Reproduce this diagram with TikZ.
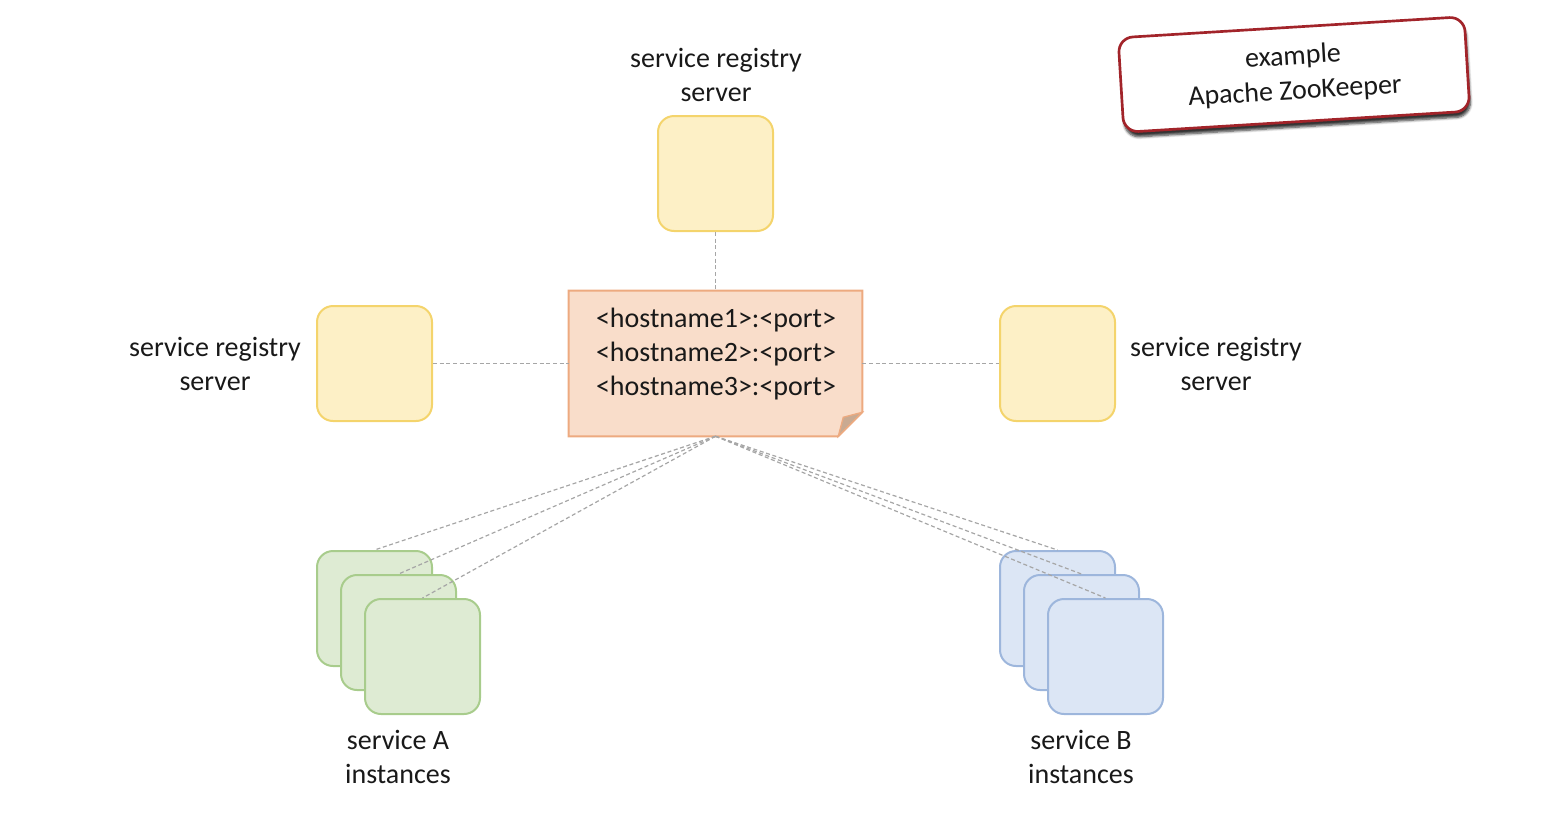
\documentclass[tikz,border=0pt]{standalone}
\usepackage{fontspec}
\setmainfont{Carlito}
\usepackage{xcolor}
\usepackage{tikz}
\usetikzlibrary{calc}
\usetikzlibrary{shadows.blur}

\definecolor{srvfill}{HTML}{FDF0C6}
\definecolor{srvline}{HTML}{F4D46C}
\definecolor{afill}{HTML}{DEEBD3}
\definecolor{aline}{HTML}{A8CC8C}
\definecolor{bfill}{HTML}{DCE6F5}
\definecolor{bline}{HTML}{9DB6DC}
\definecolor{notefill}{HTML}{F9DDCA}
\definecolor{noteline}{HTML}{EDAA80}
\definecolor{foldfill}{HTML}{C9AA92}
\definecolor{exline}{HTML}{A2242A}
\definecolor{linkgray}{HTML}{A6A6A6}

\begin{document}
\begin{tikzpicture}[x=0.75pt,y=0.75pt,yscale=-1,xscale=1,
  every node/.style={font=\fontsize{21}{25.5}\selectfont,text=black!90},
  server/.style={draw=srvline,fill=srvfill,line width=1.5pt,rounded corners=12pt,minimum size=86.25pt,inner sep=0pt},
  instA/.style={server,draw=aline,fill=afill},
  instB/.style={server,draw=bline,fill=bfill},
  link/.style={draw=linkgray,line width=0.9pt,dash pattern=on 3pt off 2pt},
  exbox/.style={draw=exline,fill=white,line width=2pt,rounded corners=11pt,minimum width=260pt,minimum height=71pt,align=center,
    font=\fontsize{21}{26}\selectfont,
    blur shadow={shadow xshift=1pt,shadow yshift=-4pt,shadow blur steps=6,shadow opacity=80}}]
\useasboundingbox (0,0) rectangle (1545,836); %set diagram to the size of the slide

%Shape: registry servers
\node[server] (srvTop) at (715.5,173.5) {};
\node[server] (srvLeft) at (374.5,363.5) {};
\node[server] (srvRight) at (1057.5,363.5) {};

%Shape: Note with the registry entries
\node[minimum width=219.75pt,minimum height=108.75pt,inner sep=0pt] (reg) at (715.5,363.5) {};
\draw[fill=notefill,draw=noteline,line width=1.5pt] (reg.north west) -- (reg.north east) -- ($(reg.south east)+(0,-24)$) -- ($(reg.south east)+(-24,0)$) -- (reg.south west) -- cycle;
\draw[fill=foldfill,draw=noteline,line width=1pt] ($(reg.south east)+(0,-24)$) -- ($(reg.south east)+(-19,-19)$) -- ($(reg.south east)+(-24,0)$) -- cycle;
\node[align=center] (regtxt) at (716,354) {<hostname1>:<port>\\<hostname2>:<port>\\<hostname3>:<port>};

%Links to the registry servers
\draw[link] (srvTop.south) -- (reg.north);
\draw[link] (srvLeft.east) -- (reg.west);
\draw[link] (reg.east) -- (srvRight.west);

%Shape: stacks of instances
\foreach \i in {0,1,2} {
  \node[instA] (instA\i) at (374.5+24*\i,608.5+24*\i) {};
  \node[instB] (instB\i) at (1057.5+24*\i,608.5+24*\i) {};
}
\foreach \i in {0,1,2} {
  \draw[link] (reg.south) -- (instA\i.north);
  \draw[link] (reg.south) -- (instB\i.north);
}

% Text Node
\node[align=center] (lblTop) at (716,75) {service registry\\server};
% Text Node
\node[align=center] (lblLeft) at (215,364) {service registry\\server};
% Text Node
\node[align=center] (lblRight) at (1216,364) {service registry\\server};
% Text Node
\node[align=center] (lblA) at (398,757) {service A\\instances};
% Text Node
\node[align=center] (lblB) at (1081,757) {service B\\instances};

%Shape: example box
\node[exbox,rotate=3.5] (ex) at (1294,74.5) {example\\Apache ZooKeeper};

\end{tikzpicture}
\end{document}
